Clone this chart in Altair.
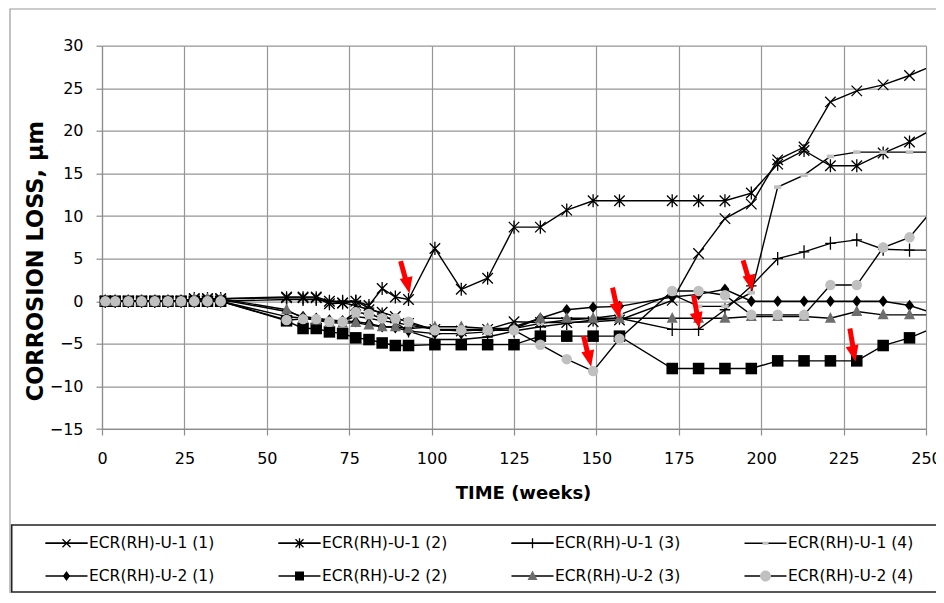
import altair as alt
import pandas as pd

# ---------------- data ----------------
weeks = [1, 4, 8, 12, 16, 20, 24, 28, 32, 36,
         56, 61, 65, 69, 73, 77, 81, 85, 89, 93,
         101, 109, 117, 125, 133, 141, 149, 157,
         173, 181, 189, 197, 205, 213, 221, 229, 237, 245, 253]

series_names = ["ECR(RH)-U-1 (1)", "ECR(RH)-U-1 (2)", "ECR(RH)-U-1 (3)", "ECR(RH)-U-1 (4)",
                "ECR(RH)-U-2 (1)", "ECR(RH)-U-2 (2)", "ECR(RH)-U-2 (3)", "ECR(RH)-U-2 (4)"]

u1_1 = [0, 0, 0, 0, 0, 0, 0, 0.3, 0.3, 0.3,
        0.5, 0.5, 0.5, 0.0, -0.2, -0.5, -1.0, -1.3, -1.8, -2.6,
        -3.3, -3.5, -3.3, -2.4, -2.5, -2.5, -2.4, -2.2,
        0.1, 5.6, 9.7, 11.4, 16.6, 18.1, 23.4, 24.7, 25.4, 26.5, 27.8]
u1_2 = [0, 0, 0, 0, 0, 0, 0, 0.3, 0.3, 0.3,
        0.4, 0.4, 0.4, -0.3, -0.2, 0.0, -0.5, 1.5, 0.5, 0.2,
        6.2, 1.4, 2.7, 8.7, 8.7, 10.7, 11.8, 11.8,
        11.8, 11.8, 11.8, 12.7, 16.1, 17.7, 15.9, 15.9, 17.4, 18.7, 20.4]
u1_3 = [0, 0, 0, 0, 0, 0, 0, 0, 0, 0,
        0.2, 0.2, 0.2, 0.0, 0.0, 0.0, -0.8, -1.5, -2.5, -3.5,
        -4.5, -4.5, -4.2, -3.5, -3.0, -2.6, -2.2, -2.0,
        -3.3, -3.3, -1.0, 1.8, 5.0, 5.8, 6.8, 7.2, 6.1, 6.0, 6.0]
u1_4 = [0, 0, 0, 0, 0, 0, 0, 0, 0, 0,
        -1.8, -2.0, -2.0, -2.3, -2.3, -1.8, -2.0, -2.3, -2.5, -2.8,
        -3.3, -3.3, -3.3, -3.2, -2.6, -2.2, -2.0, -1.6,
        0.8, -0.6, -0.6, 1.0, 13.4, 14.8, 17.0, 17.5, 17.5, 17.5, 17.5]
u2_1 = [0, 0, 0, 0, 0, 0, 0, 0.2, 0.2, 0.2,
        -1.2, -1.8, -2.0, -2.2, -2.3, -2.4, -2.6, -3.0, -3.1, -3.5,
        -3.8, -3.8, -3.6, -3.0, -2.0, -1.0, -0.7, -0.6,
        0.5, 0.8, 1.4, 0.0, 0.0, 0.0, 0.0, 0.0, 0.0, -0.5, -1.5]
u2_2 = [0, 0, 0, 0, 0, 0, 0, 0, 0, 0,
        -2.3, -3.2, -3.2, -3.6, -3.8, -4.3, -4.5, -4.9, -5.2, -5.2,
        -5.1, -5.1, -5.1, -5.1, -4.1, -4.1, -4.1, -4.1,
        -7.9, -7.9, -7.9, -7.9, -7.0, -7.0, -7.0, -7.0, -5.2, -4.3, -3.0]
u2_3 = [0, 0, 0, 0, 0, 0, 0, 0.3, 0.3, 0.3,
        -1.0, -2.0, -2.2, -2.5, -2.6, -2.5, -2.8, -3.0, -3.0, -3.2,
        -3.0, -3.0, -3.2, -3.2, -2.0, -2.0, -2.0, -2.0,
        -2.0, -2.0, -2.0, -1.8, -1.8, -1.8, -2.0, -1.2, -1.6, -1.6, -1.6]
u2_4 = [0, 0, 0, 0, 0, 0, 0, 0, 0, 0,
        -2.2, -2.1, -2.1, -2.4, -2.4, -1.3, -1.5, -2.0, -2.0, -2.4,
        -3.4, -3.4, -3.4, -3.4, -5.1, -6.8, -8.2, -4.4,
        1.2, 1.2, 0.7, -1.6, -1.6, -1.6, 1.9, 1.9, 6.3, 7.5, 11.2]

series_values = [u1_1, u1_2, u1_3, u1_4, u2_1, u2_2, u2_3, u2_4]

# red arrows (tail -> tip), in data units
arrow_tail_week = [90.6, 154.9, 146.1, 194.5, 179.5, 226.9]
arrow_tail_loss = [4.7, 1.6, -4.1, 4.8, 0.7, -3.2]
arrow_tip_week = [93.3, 157.0, 148.4, 197.3, 181.3, 228.6]
arrow_tip_loss = [0.9, -2.1, -7.7, 1.2, -3.2, -7.1]

x_ticks = list(range(0, 251, 25))
y_ticks = list(range(-15, 31, 5))

# ---------------- styles ----------------
FONT = "DejaVu Sans"
marker_paths = [
    "M-1,-1L1,1M-1,1L1,-1",
    "M-1,-1L1,1M-1,1L1,-1M0,-1.25V1.25",
    "M0,-1.25V1.25M-1,0H1",
    "M-0.7,-0.35H0.7V0.35H-0.7Z",
    "M0,-1.1L0.85,0L0,1.1L-0.85,0Z",
    "M-1.1,-1.1H1.1V1.1H-1.1Z",
    "M0,-1.2L1.05,0.85H-1.05Z",
    "circle",
]
legend_line_path = "M-2.1,0H2.1"
legend_marker_paths = [legend_line_path + p for p in [
    "M-0.4,-0.4L0.4,0.4M-0.4,0.4L0.4,-0.4",
    "M-0.4,-0.4L0.4,0.4M-0.4,0.4L0.4,-0.4M0,-0.5V0.5",
    "M0,-0.5V0.5",
    "M-0.3,-0.15H0.3V0.15H-0.3Z",
    "M0,-0.5L0.36,0L0,0.5L-0.36,0Z",
    "M-0.45,-0.45H0.45V0.45H-0.45Z",
    "M0,-0.55L0.5,0.4H-0.5Z",
    "M0.55,0A0.55,0.55,0,1,1,-0.55,0A0.55,0.55,0,1,1,0.55,0Z",
]]
fill_colors = ["transparent", "transparent", "transparent", "#c0c0c0",
               "#000000", "#000000", "#6e6e6e", "#c0c0c0"]
stroke_colors = ["#000000", "#000000", "#000000", "transparent",
                 "transparent", "transparent", "transparent", "transparent"]

# ---------------- tables ----------------
rows = []
for name, vals in zip(series_names, series_values):
    for w, v in zip(weeks, vals):
        rows.append({"Series": name, "Week": w, "Loss": v})
df = pd.DataFrame(rows)
df_pts = df[df["Week"] <= 250]

head_frac = 0.42
arrow_df = pd.DataFrame({
    "Week": arrow_tail_week,
    "Loss": arrow_tail_loss,
    "Week2": [t + (a - t) * head_frac for a, t in zip(arrow_tail_week, arrow_tip_week)],
    "Loss2": [t + (a - t) * head_frac for a, t in zip(arrow_tail_loss, arrow_tip_loss)],
})
tip_df = pd.DataFrame({"Week": arrow_tip_week, "Loss": arrow_tip_loss})

leg_df_l = pd.DataFrame({"Week": [-60] * 8, "Loss": [0] * 8, "SeriesL": series_names})
leg_df_m = pd.DataFrame({"Week": [-60] * 8, "Loss": [0] * 8, "SeriesM": series_names})
one = pd.DataFrame({"a": [0]})

# ---------------- encodings ----------------
x_enc = alt.X("Week:Q", scale=alt.Scale(domain=[0, 250], nice=False, zero=False),
              axis=alt.Axis(values=x_ticks, title="TIME (weeks)", tickSize=6, labelPadding=15,
                            labelFontSize=16, titleFontSize=18, titleX=421, titleY=64,
                            titleAlign="center", titleBaseline="middle", labelFlush=False))
y_enc = alt.Y("Loss:Q", scale=alt.Scale(domain=[-15, 30], nice=False, zero=False),
              axis=alt.Axis(values=y_ticks, title="CORROSION LOSS, µm", tickSize=6, labelPadding=13,
                            labelFontSize=16, titleFontSize=22.5, titleAngle=270, titleX=-67,
                            titleY=215, titleAlign="center", titleBaseline="middle"))

leg_common = dict(orient="none", legendX=-46.5, legendY=486.3, columns=4, columnPadding=61,
                  rowPadding=13, title=None, symbolSize=400, symbolStrokeWidth=1.3,
                  symbolOpacity=1, labelFont=FONT, labelFontSize=15.5, labelColor="black",
                  labelOffset=11.5, labelLimit=400, padding=0, direction="horizontal")

# ---------------- layers ----------------
border = alt.Chart(one).mark_rect(fill="transparent", stroke="#9a9a9a", strokeWidth=1.2).encode(
    x=alt.value(-92), x2=alt.value(900), y=alt.value(-36.7), y2=alt.value(620))
legend_box = alt.Chart(one).mark_rect(fill="transparent", stroke="#222222", strokeWidth=1.6).encode(
    x=alt.value(-90.3), x2=alt.value(860), y=alt.value(479.3), y2=alt.value(546.3))

lines = alt.Chart(df).mark_line(color="black", strokeWidth=1.4, clip=True).encode(
    x=x_enc, y=y_enc, detail="Series:N", order="Week:Q")

points = alt.Chart(df_pts).mark_point(size=110, strokeWidth=1.3, opacity=1, filled=False).encode(
    x=x_enc, y=y_enc,
    shape=alt.Shape("Series:N", scale=alt.Scale(domain=series_names, range=marker_paths), legend=None),
    fill=alt.Fill("Series:N", scale=alt.Scale(domain=series_names, range=fill_colors), legend=None),
    stroke=alt.Stroke("Series:N", scale=alt.Scale(domain=series_names, range=stroke_colors), legend=None),
)

shaft = alt.Chart(arrow_df).mark_rule(color="#ff0000", strokeWidth=5).encode(
    x=x_enc, y=y_enc, x2="Week2:Q", y2="Loss2:Q")
head = alt.Chart(tip_df).mark_point(shape="M-1,-2.5L1,-2.5L0,0Z", size=169, filled=True,
                                    color="#ff0000", opacity=1, angle=348).encode(x=x_enc, y=y_enc)

legend_lines = alt.Chart(leg_df_l).mark_point(clip=True, filled=False, stroke="black",
                                             strokeWidth=1.3, size=400).encode(
    x=x_enc, y=y_enc,
    shape=alt.Shape("SeriesL:N", scale=alt.Scale(domain=series_names, range=[legend_line_path] * 8),
                    legend=alt.Legend(**leg_common)),
)
lm_legend = alt.Legend(**leg_common, labelOpacity=0)
legend_marks = alt.Chart(leg_df_m).mark_point(clip=True, filled=True, strokeWidth=1.3, size=400).encode(
    x=x_enc, y=y_enc,
    shape=alt.Shape("SeriesM:N", scale=alt.Scale(domain=series_names, range=legend_marker_paths), legend=lm_legend),
    fill=alt.Fill("SeriesM:N", scale=alt.Scale(domain=series_names, range=fill_colors), legend=lm_legend),
    stroke=alt.Stroke("SeriesM:N", scale=alt.Scale(domain=series_names, range=stroke_colors), legend=lm_legend),
)

chart = alt.layer(
    border, legend_box, lines, points, shaft, head, legend_lines, legend_marks
).resolve_scale(
    shape="independent", fill="independent", stroke="independent"
).properties(
    width=824, height=383.3,
    autosize=alt.AutoSizeParams(type="none"),
    padding={"left": 94, "top": 37.7, "right": 10, "bottom": 164},
).configure_view(stroke=None).configure_axis(
    gridColor="#969696", gridWidth=1.2, domainColor="#8c8c8c", domainWidth=1.2,
    tickColor="#8c8c8c", tickWidth=1.2, labelFont=FONT, labelColor="black",
    titleFont=FONT, titleFontWeight="bold", titleColor="black",
)

chart.save("out.html", embed_options={"renderer": "svg", "actions": False})
